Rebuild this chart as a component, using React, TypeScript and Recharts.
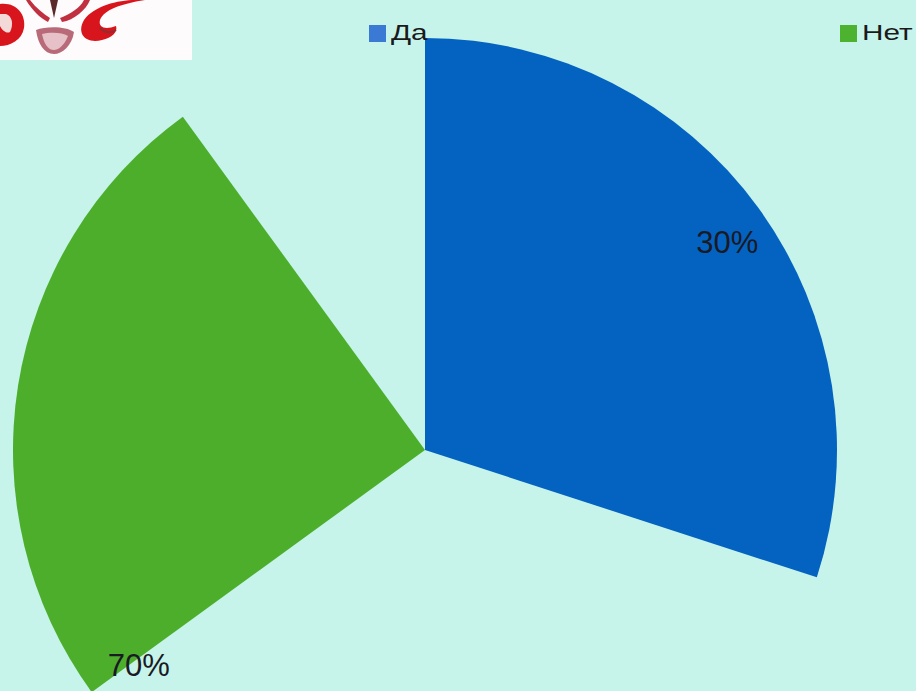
import React from 'react';
import { Legend, Pie, PieChart } from 'recharts';

const categories = ['Да', 'Нет'];
const values = [30, 70];
// visible sweep of the "Нет" slice in the picture (degrees)
const netSweep = [126, 216];

const colors = ['#0462c1', '#4cae2b'];
const legendColors = ['#3a79d4', '#4cb22f'];

const total = values.reduce((s, v) => s + v, 0);
const daData = [{ name: categories[0], value: values[0] }];
const netData = [{ name: categories[1], value: values[1] }];
const daEnd = 90 - (360 * values[0]) / total;

const RAD = Math.PI / 180;

const renderLabel = (props: any) => {
  const { cx, cy, outerRadius, midAngle, endAngle, name, value } = props;
  const isDa = name === categories[0];
  const angle = isDa ? midAngle - 1.5 : endAngle + 1;
  const r = outerRadius * (isDa ? 0.89 : 0.87);
  const x = cx + r * Math.cos(-angle * RAD);
  const y = cy + r * Math.sin(-angle * RAD);
  return (
    <text
      x={x}
      y={y}
      fill="#1a1a24"
      fontSize={31}
      fontFamily="Liberation Sans, Arial, sans-serif"
      textAnchor="middle"
      dominantBaseline="central"
    >
      {Math.round((value / total) * 100)}%
    </text>
  );
};

const legendLefts = [369, 840];

const LegendContent = () => (
  <div style={{ position: 'relative', width: 916, height: 0 }}>
    {categories.map((c, i) => (
      <div
        key={c}
        style={{
          position: 'absolute',
          left: legendLefts[i],
          top: 20,
          display: 'flex',
          alignItems: 'center',
          fontFamily: 'Liberation Sans, Arial, sans-serif',
          fontSize: 22,
          color: '#1a1a1a',
          whiteSpace: 'nowrap',
        }}
      >
        <span
          style={{
            display: 'inline-block',
            width: 17,
            height: 17,
            background: legendColors[i],
            marginRight: 5,
          }}
        />
        <span style={{ display: 'inline-block', transform: 'scaleX(1.35)', transformOrigin: 'left center' }}>
          {c}
        </span>
      </div>
    ))}
  </div>
);

const Logo = () => (
  <svg width={192} height={60} style={{ position: 'absolute', left: 0, top: 0 }}>
    <rect width={192} height={60} fill="#fdfbfb" />
    <path d="M0 4 C16 2 26 14 24 28 C22 40 10 46 0 46 Z" fill="#d8141c" />
    <path d="M6 14 C12 16 14 24 10 32 C6 34 2 30 0 26 L0 14 Z" fill="#f4d9d9" />
    <path d="M36 30 C46 26 66 26 74 32 C72 46 62 54 54 54 C44 54 38 44 36 30 Z" fill="#b86a78" />
    <path d="M42 34 C50 32 62 32 68 36 C64 46 58 50 54 50 C48 50 44 44 42 34 Z" fill="#e6c2c8" />
    <path d="M50 0 L54 18 L58 0 Z" fill="#5a2a2a" />
    <path d="M30 0 C36 8 44 14 50 18 L48 22 C40 18 32 10 26 0 Z" fill="#c03040" />
    <path d="M60 18 C70 14 80 8 84 0 L90 0 C86 10 74 20 62 22 Z" fill="#c03040" />
    <path d="M135 0 C118 0 94 6 84 20 C76 34 86 44 102 40 C112 38 118 32 116 26 C106 30 98 28 100 20 C104 10 120 4 145 0 Z" fill="#d8141c" />
    <path d="M100 28 C104 32 110 34 116 30" stroke="#8a3030" strokeWidth={2} fill="none" />
  </svg>
);

export default function App() {
  return (
    <div
      style={{
        position: 'absolute',
        left: 0,
        top: 0,
        width: 916,
        height: 691,
        overflow: 'hidden',
        background: '#c6f4eb',
      }}
    >
      <PieChart width={916} height={691} margin={{ top: 0, right: 0, bottom: 0, left: 0 }}>
        <Pie
          data={daData}
          dataKey="value"
          nameKey="name"
          cx={425}
          cy={450}
          outerRadius={412}
          startAngle={90}
          endAngle={daEnd}
          fill={colors[0]}
          stroke="none"
          label={renderLabel}
          labelLine={false}
          isAnimationActive={false}
        />
        <Pie
          data={netData}
          dataKey="value"
          nameKey="name"
          cx={425}
          cy={450}
          outerRadius={412}
          startAngle={netSweep[0]}
          endAngle={netSweep[1]}
          fill={colors[1]}
          stroke="none"
          label={renderLabel}
          labelLine={false}
          isAnimationActive={false}
        />
        <Legend
          content={() => <LegendContent />}
          verticalAlign="top"
          wrapperStyle={{ top: 0, left: 0, width: 916, height: 0 }}
        />
      </PieChart>
      <Logo />
    </div>
  );
}
